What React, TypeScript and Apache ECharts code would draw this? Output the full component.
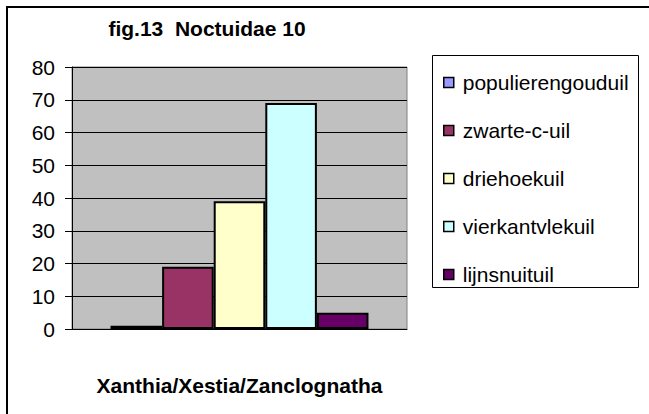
import React, { useEffect, useRef } from "react";
import * as echarts from "echarts";

const categories = ["Xanthia/Xestia/Zanclognatha"];
const seriesNames = ["populierengouduil", "zwarte-c-uil", "driehoekuil", "vierkantvlekuil", "lijnsnuituil"];
const seriesValues = [1, 19, 39, 69, 5];
const seriesColors = ["#9999FF", "#993366", "#FFFFCC", "#CCFFFF", "#660066"];
const yTicks = { min: 0, max: 80, interval: 10 };
const titleText = "fig.13  Noctuidae 10";

const FONT = "'Liberation Sans', Arial, sans-serif";

export default function App() {
  const ref = useRef<HTMLDivElement>(null);
  useEffect(() => {
    if (!ref.current) return;
    const chart = echarts.init(ref.current, null, { renderer: "svg" });
    chart.setOption({
      animation: false,
      backgroundColor: "#FFFFFF",
      textStyle: { fontFamily: FONT },
      grid: {
        left: 72,
        top: 67,
        width: 335,
        height: 262,
        show: true,
        backgroundColor: "#C0C0C0",
        borderColor: "#808080",
        borderWidth: 1,
      },
      xAxis: {
        type: "category",
        data: categories,
        axisLine: { show: true, lineStyle: { color: "#000", width: 1 } },
        axisTick: { show: false },
        axisLabel: { show: false },
        name: categories[0],
        nameLocation: "middle",
        nameGap: 46,
        nameTextStyle: { fontFamily: FONT, fontSize: 21, fontWeight: "bold", color: "#000" },
      },
      yAxis: {
        type: "value",
        min: yTicks.min,
        max: yTicks.max,
        interval: yTicks.interval,
        axisLine: { show: true, lineStyle: { color: "#000", width: 1 } },
        axisTick: { show: true, inside: false, length: 7, lineStyle: { color: "#000" } },
        axisLabel: { fontFamily: FONT, fontSize: 21, color: "#000", margin: 17 },
        splitLine: { show: true, lineStyle: { color: "#000", width: 1 } },
      },
      legend: {
        orient: "vertical",
        left: 443,
        top: 72,
        padding: 0,
        itemWidth: 10,
        itemHeight: 10,
        itemGap: 27,
        icon: "rect",
        data: seriesNames,
        textStyle: { fontFamily: FONT, fontSize: 21, color: "#000", padding: [0, 0, 0, 4] },
        itemStyle: { borderColor: "#000", borderWidth: 1.5 },
      },
      graphic: [
        { type: "rect", shape: { x: 432.5, y: 55.5, width: 206, height: 232 }, style: { fill: "#fff", stroke: "#000", lineWidth: 1 }, z: -1 },
        { type: "line", shape: { x1: 7, y1: 7, x2: 7, y2: 414 }, style: { stroke: "#000", lineWidth: 2 } },
        { type: "line", shape: { x1: 6, y1: 7, x2: 649, y2: 7 }, style: { stroke: "#000", lineWidth: 2 } },
        {
          type: "text",
          x: 207,
          y: 28,
          style: { text: titleText, fontFamily: FONT, fontSize: 21, fontWeight: "bold", fill: "#000", align: "center", verticalAlign: "middle" },
        },
      ],
      series: seriesNames.map((name, i) => ({
        name,
        type: "bar",
        data: [seriesValues[i]],
        barGap: "0%",
        barCategoryGap: "23%",
        itemStyle: { color: seriesColors[i], borderColor: "#000", borderWidth: 2 },
      })),
    });
    return () => chart.dispose();
  }, []);
  return <div ref={ref} style={{ position: "fixed", left: 0, top: 0, width: 649, height: 414 }} />;
}
